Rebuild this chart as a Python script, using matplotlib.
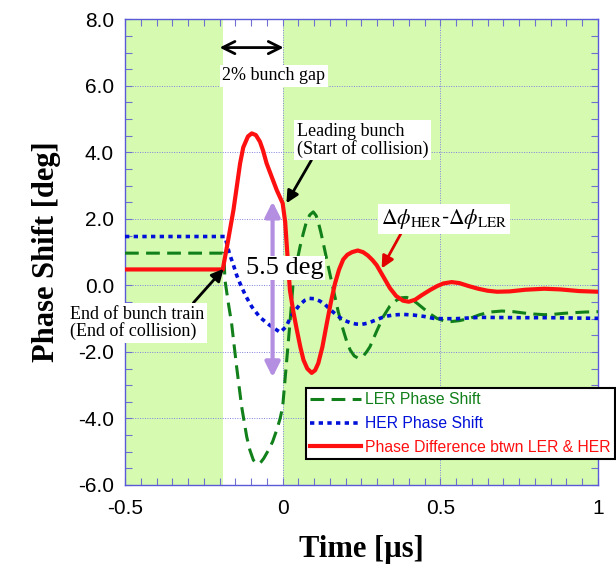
import matplotlib
matplotlib.use("Agg")
import matplotlib.pyplot as plt
from matplotlib.ticker import MultipleLocator, FixedLocator, FixedFormatter

# ---- data ----
red_x = [-0.5, -0.19, -0.175, -0.156, -0.135, -0.125, -0.11, -0.098, -0.085, -0.072,
         -0.062, -0.051, -0.035, -0.019, 0.0, 0.008, 0.014, 0.023, 0.034, 0.045,
         0.056, 0.066, 0.078, 0.092, 0.103, 0.113, 0.126, 0.140, 0.153, 0.166,
         0.179, 0.192, 0.205, 0.220, 0.238, 0.255, 0.270, 0.285, 0.298, 0.320,
         0.340, 0.360, 0.382, 0.400, 0.420, 0.440, 0.467, 0.490, 0.510, 0.536,
         0.560, 0.590, 0.620, 0.650, 0.680, 0.720, 0.770, 0.830, 0.880, 0.940, 1.0]
red_y = [0.48, 0.48, 1.25, 2.27, 3.67, 4.15, 4.48, 4.57, 4.52, 4.32,
         4.05, 3.67, 3.27, 2.87, 2.47, 1.9, 1.06, -0.14, -0.8, -1.34,
         -1.85, -2.24, -2.5, -2.63, -2.55, -2.34, -1.85, -1.14, -0.5, 0.06,
         0.48, 0.78, 0.92, 1.00, 1.05, 1.00, 0.90, 0.76, 0.61, 0.25,
         -0.08, -0.32, -0.46, -0.49, -0.43, -0.30, -0.14, -0.02, 0.06, 0.10,
         0.07, -0.02, -0.10, -0.16, -0.19, -0.18, -0.13, -0.10, -0.12, -0.17, -0.19]

ler_x = [-0.5, -0.19, -0.185, -0.183, -0.172, -0.162, -0.146, -0.130, -0.114, -0.104,
         -0.093, -0.085, -0.077, -0.068, -0.060, -0.045, -0.032, -0.019, -0.008, 0.0,
         0.011, 0.023, 0.034, 0.045, 0.055, 0.065, 0.075, 0.086, 0.097, 0.106,
         0.113, 0.121, 0.129, 0.145, 0.161, 0.176, 0.192, 0.203, 0.214, 0.227,
         0.240, 0.255, 0.266, 0.277, 0.297, 0.319, 0.340, 0.362, 0.378, 0.393,
         0.410, 0.428, 0.446, 0.468, 0.489, 0.510, 0.531, 0.560, 0.594, 0.625,
         0.658, 0.695, 0.732, 0.765, 0.795, 0.830, 0.858, 0.890, 0.922, 0.960, 1.0]
ler_y = [0.97, 0.97, 0.6, 0.16, -0.55, -1.14, -2.45, -3.65, -4.55, -4.95,
         -5.25, -5.33, -5.37, -5.30, -5.20, -4.95, -4.70, -4.35, -4.0, -3.65,
         -2.45, -1.14, 0.16, 0.70, 1.16, 1.55, 1.90, 2.12, 2.21, 2.10,
         1.90, 1.60, 1.26, 0.55, -0.14, -0.78, -1.34, -1.68, -1.94, -2.12,
         -2.19, -2.13, -2.0, -1.84, -1.40, -0.94, -0.62, -0.44, -0.37, -0.36,
         -0.42, -0.55, -0.69, -0.86, -0.99, -1.06, -1.09, -1.06, -0.99, -0.88,
         -0.80, -0.77, -0.79, -0.83, -0.86, -0.88, -0.87, -0.84, -0.82, -0.80, -0.79]

her_x = [-0.5, -0.183, -0.169, -0.156, -0.146, -0.133, -0.117, -0.098, -0.072, -0.042,
         -0.008, 0.011, 0.027, 0.053, 0.070, 0.085, 0.100, 0.118, 0.135, 0.150,
         0.166, 0.182, 0.198, 0.214, 0.232, 0.251, 0.267, 0.282, 0.298, 0.314,
         0.332, 0.351, 0.380, 0.414, 0.447, 0.478, 0.510, 0.550, 0.626, 0.750,
         0.850, 1.0]
her_y = [1.47, 1.47, 0.96, 0.61, 0.31, 0.01, -0.32, -0.64, -0.96, -1.19,
         -1.41, -1.24, -0.92, -0.59, -0.45, -0.39, -0.40, -0.47, -0.58, -0.72,
         -0.85, -0.97, -1.06, -1.12, -1.16, -1.17, -1.14, -1.09, -1.03, -0.97,
         -0.92, -0.89, -0.87, -0.89, -0.93, -0.99, -1.0, -1.0, -0.96, -0.97,
         -0.97, -0.99]

series_labels = ["LER Phase Shift", "HER Phase Shift", "Phase Difference btwn LER & HER"]
x_ticks = [-0.5, 0, 0.5, 1]
x_tick_labels = ["-0.5", "0", "0.5", "1"]
y_ticks = [-6, -4, -2, 0, 2, 4, 6, 8]
y_tick_labels = ["-6.0", "-4.0", "-2.0", "0.0", "2.0", "4.0", "6.0", "8.0"]
gap_start, gap_end = -0.19, 0.0

# ---- figure ----
plt.rcParams['font.family'] = ['Liberation Sans', 'DejaVu Sans']
plt.rcParams['mathtext.fontset'] = 'stix'
fig = plt.figure(figsize=(6.16, 5.68), dpi=100)
ax = fig.add_axes([125/616, 1-485/568, (598-125)/616, (485-19.3)/568])

bg = '#d6fbb0'
ax.axvspan(-0.5, gap_start, color=bg, zorder=0, lw=0)
ax.axvspan(gap_end, 1.0, color=bg, zorder=0, lw=0)

ax.set_xlim(-0.5, 1.0)
ax.set_ylim(-6, 8)

ax.xaxis.set_major_locator(FixedLocator(x_ticks))
ax.xaxis.set_major_formatter(FixedFormatter(x_tick_labels))
ax.yaxis.set_major_locator(FixedLocator(y_ticks))
ax.yaxis.set_major_formatter(FixedFormatter(y_tick_labels))
ax.xaxis.set_minor_locator(MultipleLocator(0.05))
ax.yaxis.set_minor_locator(MultipleLocator(0.5))

tick_c = '#7070d0'
ax.tick_params(which='both', direction='in', top=True, right=True,
               length=5, width=0.8, color=tick_c)
ax.tick_params(axis='x', which='major', labelsize=15, pad=10)
ax.tick_params(axis='y', which='major', labelsize=15, pad=8)
for sp in ax.spines.values():
    sp.set_color('#5a5ad8')
    sp.set_linewidth(1.0)
ax.grid(True, which='major', color='#8080e0', linestyle=(0, (1, 1.5)), linewidth=0.7, zorder=1)
ax.set_axisbelow(True)

l1, = ax.plot(ler_x, ler_y, color='#11801a', lw=2.2, linestyle=(0, (4.5, 2.4)), zorder=3)
l2, = ax.plot(her_x, her_y, color='#0010d8', lw=2.6, linestyle=(0, (1.2, 1.2)),
              dash_capstyle='butt', zorder=3)
l3, = ax.plot(red_x, red_y, color='#ff1010', lw=3.0, zorder=4, solid_joinstyle='round')

serif = ['Liberation Serif', 'DejaVu Serif']
ax.set_xlabel("Time [\u00b5s]", fontsize=22, fontweight='bold', family=serif, labelpad=12)
ax.set_ylabel("Phase Shift [deg]", fontsize=22, fontweight='bold', family=serif, labelpad=12)

box = dict(facecolor='white', edgecolor='none', pad=2)

# bunch gap double arrow
ax.annotate('', xy=(-0.2, 7.15), xytext=(0.003, 7.15),
            arrowprops=dict(arrowstyle='<->', color='black', lw=2, mutation_scale=22,
                            shrinkA=0, shrinkB=0), zorder=6)
ax.text(-0.028, 6.3, "2% bunch gap", family=serif, fontsize=13, ha='center', va='center',
        bbox=box, zorder=6)

# leading bunch
ax.annotate("Leading bunch\n(Start of collision)", xy=(0.012, 2.47), xytext=(0.046, 4.37),
            family=serif, fontsize=13, ha='left', va='center', linespacing=1.0,
            bbox=box, zorder=6,
            arrowprops=dict(arrowstyle='-|>', color='black', lw=2, mutation_scale=18,
                            shrinkA=0, shrinkB=0, relpos=(0.12, 0.0)))

# delta phi
ax.annotate(r"$\Delta\phi_{\rm HER}$-$\Delta\phi_{\rm LER}$", xy=(0.314, 0.51), xytext=(0.512, 2.0),
            fontsize=15.5, ha='center', va='center', bbox=box, zorder=6,
            arrowprops=dict(arrowstyle='-|>', color='#e00000', lw=2, mutation_scale=18,
                            shrinkA=0, shrinkB=0, relpos=(0.17, 0.0)))

# 5.5 deg purple arrow
ax.annotate('', xy=(-0.032, 2.52), xytext=(-0.032, -2.76),
            arrowprops=dict(arrowstyle='<|-|>', color='#b48ee0', lw=3, mutation_scale=22,
                            shrinkA=0, shrinkB=0), zorder=5)
ax.text(0.007, 0.52, "5.5 deg", family=serif, fontsize=19, ha='center', va='center',
        bbox=dict(facecolor='white', edgecolor='none', pad=1), zorder=6)

# end of bunch train
ax.annotate("End of bunch train\n(End of collision)", xy=(-0.187, 0.5), xytext=(-0.674, -1.13),
            family=serif, fontsize=13, ha='left', va='center', linespacing=1.0,
            bbox=box, zorder=6, annotation_clip=False,
            arrowprops=dict(arrowstyle='-|>', color='black', lw=2, mutation_scale=18,
                            shrinkA=0, shrinkB=0, relpos=(0.9, 1.0)))

leg = ax.legend([l1, l2, l3], series_labels, loc='upper left',
                bbox_to_anchor=(305.7/616, 1-387.7/568), bbox_transform=fig.transFigure,
                fontsize=11.3, frameon=True, fancybox=False, framealpha=1,
                edgecolor='black', handlelength=3.2, handletextpad=0.25,
                labelspacing=0.55, borderpad=0.3, borderaxespad=0)
leg.get_frame().set_linewidth(1.5)
leg.set_zorder(10)
for t, c in zip(leg.get_texts(), ['#11801a', '#0010d8', '#ff1010']):
    t.set_color(c)

fig.savefig("out.png", dpi=100)
